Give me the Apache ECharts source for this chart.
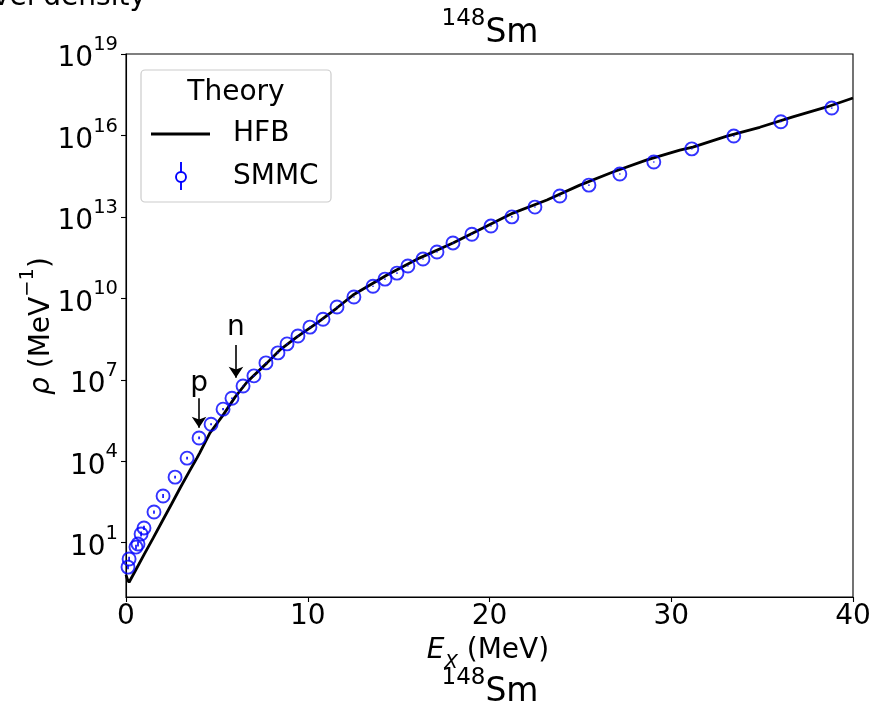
<!DOCTYPE html>
<html>
<head>
<meta charset="utf-8">
<script src="https://cdn.jsdelivr.net/npm/echarts@6/dist/echarts.min.js"></script>
<style>html,body{margin:0;padding:0;background:#fff}#c{width:875px;height:705px}</style>
</head>
<body>
<div id="c"></div>
<script>
// ---- data ----
const hfbE = [0, 0.08, 0.17, 0.5, 1.0, 1.5, 2.0, 2.5, 3.0, 3.5, 3.8, 3.9, 3.97, 4.05, 4.62, 5.34, 6.0, 6.66, 7.76, 8.47, 9.41, 10.5, 11.6, 12.49, 14.36, 16.17, 17.99, 19.86, 21.29, 23.16, 24.97, 26.79, 28.66, 30.47, 31.19, 33.06, 34.87, 36.69, 38.56, 40];
const hfbRho = [0.65, 0.44, 0.35, 0.89, 3.7, 15, 63, 260, 1.1e3, 4.4e3, 1.0e4, 1.3e4, 1.1e4, 2.0e4, 1.1e5, 5.0e5, 2.3e6, 8.3e6, 4.2e7, 1.26e8, 3.8e8, 1.23e9, 4.4e9, 1.32e10, 7.2e10, 3.1e11, 1.1e12, 4.6e12, 1.38e13, 4.2e13, 1.48e14, 4.5e14, 1.26e15, 2.9e15, 3.7e15, 9.5e15, 2.0e16, 4.8e16, 1.12e17, 2.4e17];

const smmcE = [0.11, 0.17, 0.55, 0.66, 0.83, 0.99, 1.54, 2.04, 2.70, 3.36, 4.02, 4.68, 5.34, 5.83, 6.44, 7.04, 7.70, 8.36, 8.86, 9.46, 10.12, 10.84, 11.61, 12.54, 13.59, 14.25, 14.91, 15.51, 16.34, 17.11, 17.99, 19.03, 20.08, 21.23, 22.5, 23.87, 25.47, 27.17, 29.04, 31.13, 33.44, 36.03, 38.83];
const smmcRho = [1.26, 2.5, 6.9, 8.9, 21, 35, 135, 525, 2.6e3, 1.3e4, 7.2e4, 2.3e5, 8.3e5, 2.1e6, 5.9e6, 1.4e7, 4.2e7, 9.8e7, 2.1e8, 4.1e8, 8.7e8, 1.7e9, 4.8e9, 1.12e10, 2.8e10, 5.1e10, 8.5e10, 1.55e11, 2.8e11, 5.1e11, 1.1e12, 2.3e12, 4.6e12, 1.0e13, 2.3e13, 5.9e13, 1.48e14, 3.8e14, 1.05e15, 3.2e15, 9.5e15, 3.2e16, 1.02e17];
// error bar half-widths, in decades (log10)
const smmcErrDec = [0.08, 0.08, 0.09, 0.09, 0.09, 0.08, 0.06, 0.07, 0.05, 0.05, 0.05, 0.04, 0.04, 0.03, 0.02, 0.02, 0.02, 0.02, 0.02, 0.02, 0.02, 0.02, 0.02, 0.02, 0.02, 0.02, 0.02, 0.02, 0.02, 0.02, 0.02, 0.02, 0.02, 0.02, 0.02, 0.02, 0.02, 0.02, 0.02, 0.02, 0.02, 0.02, 0.02];

const xTicks = [0, 10, 20, 30, 40];
const yTickValues = [1e1, 1e4, 1e7, 1e10, 1e13, 1e16, 1e19];

// ---- chart ----
const FONT = 'DejaVu Sans';
const FS = 28, FS_SUP = 19.5, FS_T = 33, FS_T_SUP = 23;
const chart = echarts.init(document.getElementById('c'), null, {renderer: 'canvas'});

const hfbData = hfbE.map((e, i) => [e, hfbRho[i]]);
const smmcData = smmcE.map((e, i) => [e, smmcRho[i]]);
const errData = smmcE.map((e, i) => [e, smmcRho[i], smmcErrDec[i]]);

const supLabel = function (v) {
  const exp = Math.round(Math.log10(v));
  return '{b|10}{s|' + exp + '}';
};
const nucleus = {
  b: {fontSize: FS_T, fontFamily: FONT, fill: '#000', lineHeight: 42, verticalAlign: 'bottom'},
  s: {fontSize: FS_T_SUP, fontFamily: FONT, fill: '#000', lineHeight: 24, verticalAlign: 'top'}
};

chart.setOption({
  animation: false,
  backgroundColor: '#fff',
  grid: {left: 126, right: 22, top: 54, bottom: 108, show: true, borderColor: '#000', borderWidth: 1.1, backgroundColor: 'transparent'},
  xAxis: {
    type: 'value', min: 0, max: 40, interval: 10,
    axisLine: {show: true, onZero: false, lineStyle: {color: '#000', width: 1.1}},
    axisTick: {show: true, inside: false, length: 5, lineStyle: {color: '#000', width: 1.1}},
    axisLabel: {color: '#000', fontSize: FS, fontFamily: FONT, margin: 6},
    splitLine: {show: false}
  },
  yAxis: {
    type: 'log', logBase: 10, min: 0.1, max: 1e19,
    axisLine: {show: true, lineStyle: {color: '#000', width: 1.1}},
    axisTick: {show: true, length: 5, lineStyle: {color: '#000', width: 1.1}, customValues: yTickValues},
    axisLabel: {
      color: '#000', fontFamily: FONT, margin: 8,
      customValues: yTickValues,
      formatter: supLabel,
      rich: {
        b: {fontSize: FS, fontFamily: FONT, color: '#000', lineHeight: 38, verticalAlign: 'bottom'},
        s: {fontSize: FS_SUP, fontFamily: FONT, color: '#000', lineHeight: 20, verticalAlign: 'top'}
      }
    },
    splitLine: {show: false},
    minorTick: {show: false}
  },
  series: [
    {
      name: 'HFB', type: 'line', data: hfbData, showSymbol: false, symbol: 'none',
      lineStyle: {color: '#000', width: 2.8}, z: 2, silent: true,
      markLine: {
        silent: true, symbol: ['none', 'arrow'], symbolSize: 11,
        lineStyle: {color: '#000', width: 1.6, type: 'solid'},
        label: {show: false},
        data: [
          [{coord: [4.02, 2.1e6], symbol: 'none'}, {coord: [4.02, 1.7e5], symbol: 'arrow', symbolSize: 11}],
          [{coord: [6.05, 1.9e8], symbol: 'none'}, {coord: [6.05, 1.2e7], symbol: 'arrow', symbolSize: 11}]
        ]
      },
      markPoint: {
        silent: true, symbol: 'circle', symbolSize: 0,
        label: {show: true, color: '#000', fontSize: FS, fontFamily: FONT, position: 'inside'},
        data: [
          {coord: [4.02, 7.0e6], value: 'p', label: {formatter: 'p'}},
          {coord: [6.05, 8.0e8], value: 'n', label: {formatter: 'n'}}
        ]
      }
    },
    {
      name: 'SMMC-err', type: 'custom', data: errData, z: 3, silent: true,
      renderItem: function (params, api) {
        const x = api.value(0), y = api.value(1), d = api.value(2);
        const lo = api.coord([x, y * Math.pow(10, -d)]);
        const hi = api.coord([x, y * Math.pow(10, d)]);
        return {type: 'line', shape: {x1: lo[0], y1: lo[1], x2: hi[0], y2: hi[1]}, style: {stroke: '#0000ff', lineWidth: 1.6}};
      }
    },
    {
      name: 'SMMC', type: 'scatter', data: smmcData, symbol: 'circle', symbolSize: 13, z: 4, silent: true,
      itemStyle: {color: 'rgba(0,0,0,0)', borderColor: '#0000ff', borderWidth: 1.9}
    }
  ],
  graphic: [
    // clipped suptitle at top-left
    {type: 'text', x: 146, y: 12, style: {text: 'level density', fontSize: FS, fontFamily: FONT, fill: '#000', align: 'right', verticalAlign: 'bottom'}},
    // title
    {type: 'text', x: 490, y: 29, style: {text: '{s|148}{b|Sm}', align: 'center', verticalAlign: 'middle', rich: nucleus}},
    // x axis name
    {type: 'text', x: 488, y: 655, style: {
      text: '{e|E}{x|X}{n| (MeV)}', align: 'center', verticalAlign: 'middle',
      rich: {
        e: {fontSize: FS, fontFamily: FONT, fontStyle: 'italic', fill: '#000', lineHeight: 36, verticalAlign: 'top'},
        x: {fontSize: FS_SUP, fontFamily: FONT, fontStyle: 'italic', fill: '#000', lineHeight: 20, verticalAlign: 'bottom'},
        n: {fontSize: FS, fontFamily: FONT, fill: '#000', lineHeight: 36, verticalAlign: 'top'}
      }}},
    // bottom nucleus label
    {type: 'text', x: 490, y: 688, style: {text: '{s|148}{b|Sm}', align: 'center', verticalAlign: 'middle', rich: nucleus}},
    // y axis name (rotated)
    {type: 'text', x: 37, y: 326, rotation: Math.PI / 2, style: {
      text: '{r|ρ}{n| (MeV}{s|−1}{n|)}', align: 'center', verticalAlign: 'middle',
      rich: {
        r: {fontSize: FS, fontFamily: FONT, fontStyle: 'italic', fill: '#000', lineHeight: 38, verticalAlign: 'bottom'},
        n: {fontSize: FS, fontFamily: FONT, fill: '#000', lineHeight: 38, verticalAlign: 'bottom'},
        s: {fontSize: FS_SUP, fontFamily: FONT, fill: '#000', lineHeight: 20, verticalAlign: 'top'}
      }}},
    // legend box
    {type: 'rect', shape: {x: 141, y: 70, width: 190, height: 132, r: 4}, style: {fill: 'rgba(255,255,255,0.8)', stroke: '#cccccc', lineWidth: 1.2}, z: 10},
    {type: 'text', x: 236, y: 93, z: 11, style: {text: 'Theory', fontSize: FS, fontFamily: FONT, fill: '#000', align: 'center', verticalAlign: 'middle'}},
    {type: 'line', shape: {x1: 151, y1: 134, x2: 210, y2: 134}, style: {stroke: '#000', lineWidth: 2.8}, z: 11},
    {type: 'text', x: 233, y: 134, z: 11, style: {text: 'HFB', fontSize: FS, fontFamily: FONT, fill: '#000', align: 'left', verticalAlign: 'middle'}},
    {type: 'line', shape: {x1: 181, y1: 162, x2: 181, y2: 190}, style: {stroke: '#0000ff', lineWidth: 1.9}, z: 11},
    {type: 'circle', shape: {cx: 181, cy: 177, r: 5}, style: {fill: '#fff', stroke: '#0000ff', lineWidth: 1.9}, z: 12},
    {type: 'text', x: 233, y: 177, z: 11, style: {text: 'SMMC', fontSize: FS, fontFamily: FONT, fill: '#000', align: 'left', verticalAlign: 'middle'}}
  ]
});
</script>
</body>
</html>
